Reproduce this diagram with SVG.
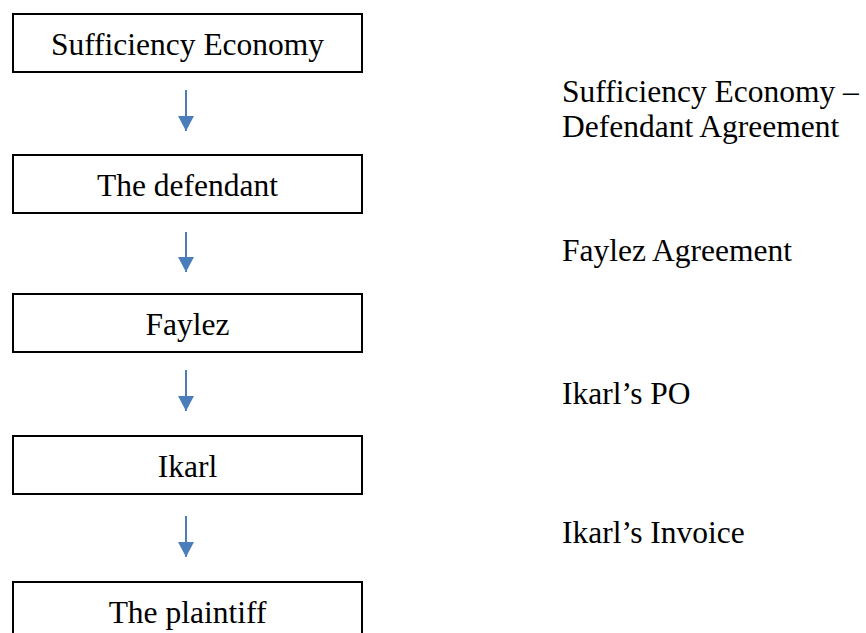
<svg xmlns="http://www.w3.org/2000/svg" width="866" height="633" viewBox="0 0 866 633">
<style>
.box{fill:#fff;stroke:#000;stroke-width:2}
text{font-family:"Liberation Serif","Times New Roman",serif;font-size:31.5px;fill:#000}
.arr{stroke:#4a7ebb;stroke-width:2;fill:none}
</style>
<defs>
<marker id="ah" markerUnits="userSpaceOnUse" markerWidth="16" markerHeight="16" refX="15" refY="8" orient="auto">
<path d="M0,0 L15,8 L0,16 Z" fill="#4a7ebb"/>
</marker>
</defs>
<rect width="866" height="633" fill="#fff"/>
<g id="n1"><rect class="box" x="13" y="14" width="349" height="58"/><text font-family="Liberation Serif, serif" text-anchor="middle" x="187.5" y="55">Sufficiency Economy</text></g>
<g id="n2"><rect class="box" x="13" y="155" width="349" height="58"/><text font-family="Liberation Serif, serif" text-anchor="middle" x="187.5" y="196">The defendant</text></g>
<g id="n3"><rect class="box" x="13" y="294" width="349" height="58"/><text font-family="Liberation Serif, serif" text-anchor="middle" x="187.5" y="335">Faylez</text></g>
<g id="n4"><rect class="box" x="13" y="436" width="349" height="58"/><text font-family="Liberation Serif, serif" text-anchor="middle" x="187.5" y="477">Ikarl</text></g>
<g id="n5"><rect class="box" x="13" y="582" width="349" height="58"/><text font-family="Liberation Serif, serif" text-anchor="middle" x="187.5" y="623">The plaintiff</text></g>
<g id="connectors">
<line class="arr" x1="186" y1="90" x2="186" y2="131" marker-end="url(#ah)"/>
<line class="arr" x1="186" y1="232" x2="186" y2="272" marker-end="url(#ah)"/>
<line class="arr" x1="186" y1="370" x2="186" y2="411" marker-end="url(#ah)"/>
<line class="arr" x1="186" y1="516" x2="186" y2="557" marker-end="url(#ah)"/>
</g>
<g id="labels">
<text x="562" y="102">Sufficiency Economy –</text>
<text x="562" y="137">Defendant Agreement</text>
<text x="562" y="261">Faylez Agreement</text>
<text x="562" y="404">Ikarl’s PO</text>
<text x="562" y="543">Ikarl’s Invoice</text>
</g>
</svg>
